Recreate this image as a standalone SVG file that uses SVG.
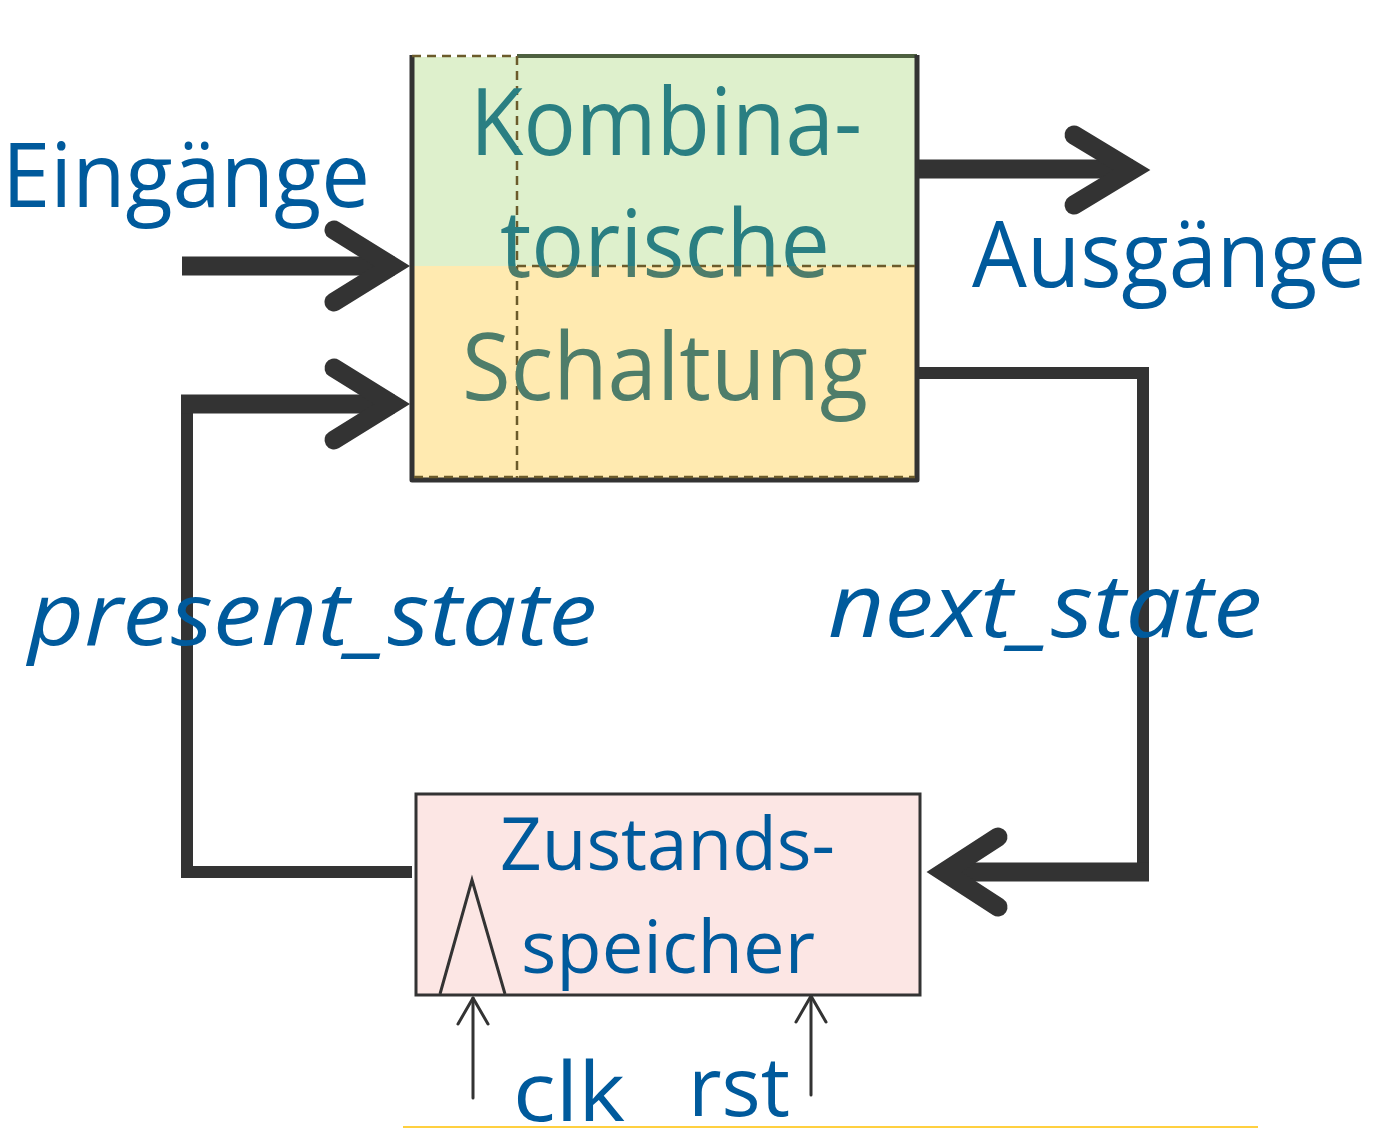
<svg xmlns="http://www.w3.org/2000/svg" width="1381" height="1129" viewBox="0 0 1381 1129">
<style>
.lbl{font-family:"Open Sans","Noto Sans",sans-serif;fill:#005A9C}
.it{font-style:italic}
.bar{fill:none;stroke:#333;stroke-width:19;stroke-linecap:butt}
.head{fill:none;stroke:#333;stroke-width:19;stroke-linecap:round;stroke-linejoin:miter;stroke-miterlimit:10}
.wire{fill:none;stroke:#333;stroke-width:12;stroke-linejoin:miter;stroke-linecap:butt}
.thin{fill:none;stroke:#333;stroke-width:3;stroke-linecap:round;stroke-linejoin:round}
.dash{fill:none;stroke:#6B5B2B;stroke-width:2.5;stroke-dasharray:9 6}
</style>
<defs>
<linearGradient id="tg" gradientUnits="userSpaceOnUse" x1="0" y1="55" x2="0" y2="480">
<stop offset="0" stop-color="#2A7F82"/>
<stop offset="0.4965" stop-color="#2A7F82"/>
<stop offset="0.4965" stop-color="#4E7D6A"/>
<stop offset="1" stop-color="#4E7D6A"/>
</linearGradient>
</defs>
<rect width="1381" height="1129" fill="#fff"/>

<g id="connectors">
<line x1="182" y1="266" x2="395" y2="266" class="bar"/>
<polyline points="334,230 392,266 334,302" class="head"/>
<polyline points="412,872 187,872 187,404 395,404" class="wire"/>
<line x1="181" y1="404" x2="395" y2="404" class="bar" stroke-width="17"/>
<polyline points="334,368 392,404 334,440" class="head"/>
<line x1="917" y1="169" x2="1133" y2="169" class="bar"/>
<polyline points="1074,135 1132,170 1074,205" class="head"/>
<polyline points="917,373 1143,373 1143,878" class="wire"/>
<line x1="1149" y1="872" x2="942" y2="872" class="bar" stroke-width="16"/>
<polyline points="998,837 944,872 998,907" class="head"/>
<line x1="473" y1="1098" x2="473" y2="998" class="thin"/>
<polyline points="458,1024 473,998 488,1024" class="thin"/>
<line x1="811" y1="1095" x2="811" y2="996" class="thin"/>
<polyline points="796,1022 811,996 826,1022" class="thin"/>
</g>

<g id="comb">
<rect x="414" y="57" width="502" height="209" fill="#DEF0CC"/>
<rect x="414" y="266" width="502" height="213" fill="#FFEAB0"/>
<line x1="517" y1="56" x2="917" y2="56" stroke="#4E6140" stroke-width="4"/>
<polyline points="412,55 412,480 917,480 917,55" fill="none" stroke="#333" stroke-width="5" stroke-linejoin="round"/>
<line x1="412" y1="56" x2="517" y2="56" class="dash"/>
<line x1="517" y1="56" x2="517" y2="478" class="dash"/>
<line x1="517" y1="266" x2="915" y2="266" class="dash"/>
<line x1="414" y1="477" x2="915" y2="477" class="dash"/>
<text x="470" y="155" font-size="94" textLength="392" lengthAdjust="spacingAndGlyphs" class="lbl" style="fill:url(#tg)">Kombina-</text>
<text x="500" y="277" font-size="94" textLength="330" lengthAdjust="spacingAndGlyphs" class="lbl" style="fill:url(#tg)">torische</text>
<text x="462" y="400" font-size="94" textLength="406" lengthAdjust="spacingAndGlyphs" class="lbl" style="fill:url(#tg)">Schaltung</text>
</g>

<g id="store">
<rect x="416" y="794" width="504" height="201" fill="#FCE6E4" stroke="#333" stroke-width="3"/>
<polyline points="440,994 472,880 505,994" fill="none" stroke="#333" stroke-width="3" stroke-linejoin="miter"/>
<text x="500" y="870" font-size="73" textLength="335" lengthAdjust="spacingAndGlyphs" class="lbl">Zustands-</text>
<text x="521" y="973" font-size="73" textLength="294" lengthAdjust="spacingAndGlyphs" class="lbl">speicher</text>
</g>

<g id="labels">
<text x="2" y="207" font-size="90" textLength="368" lengthAdjust="spacingAndGlyphs" class="lbl">Eingänge</text>
<text x="972" y="287" font-size="91" textLength="394" lengthAdjust="spacingAndGlyphs" class="lbl">Ausgänge</text>
<text x="28" y="645" font-size="88" textLength="569" lengthAdjust="spacingAndGlyphs" class="lbl it">present_state</text>
<text x="828" y="637" font-size="88" textLength="434" lengthAdjust="spacingAndGlyphs" class="lbl it">next_state</text>
<text x="513" y="1121" font-size="82" textLength="112" lengthAdjust="spacingAndGlyphs" class="lbl">clk</text>
<text x="688" y="1116" font-size="82" textLength="102" lengthAdjust="spacingAndGlyphs" class="lbl">rst</text>
</g>
<line x1="403" y1="1127" x2="1258" y2="1127" stroke="#FFC000" stroke-width="1.5"/>
</svg>
